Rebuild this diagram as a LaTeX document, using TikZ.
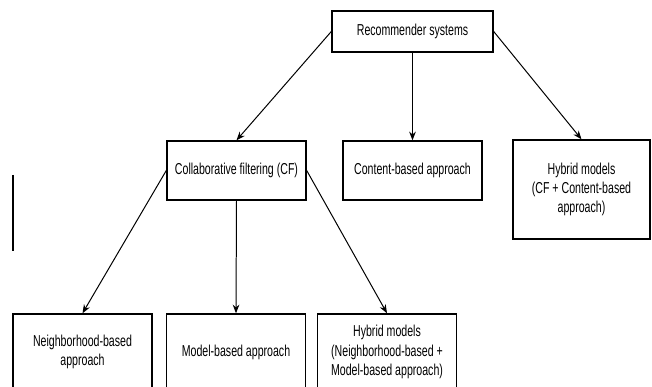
\documentclass[tikz,border=0pt]{standalone}
\usepackage{fontspec}
\setmainfont{Liberation Sans}[FakeStretch=0.67]
\usepackage{tikz}
\usetikzlibrary{arrows.meta,positioning}

\begin{document}
\begin{tikzpicture}[
        catbox/.style={draw, line width=1.2pt, minimum width=4.17cm, minimum height=1.77cm, align=center, inner sep=2pt, font=\fontsize{13.5}{16.5}\selectfont},
        rootbox/.style={catbox, minimum width=4.83cm, minimum height=1.23cm},
        leafbox/.style={catbox, minimum height=2.28cm},
        branch/.style={-{Stealth[length=2.6mm, width=2mm]}, line width=0.85pt}
      ]
      \useasboundingbox (0,0) rectangle (19.56,-11.61);

      \node[rootbox] (rec) at (12.375,-0.945) {Recommender systems};

      \node[catbox] (cf) at (7.095,-5.115) {Collaborative filtering (CF)};
      \node[catbox] (cb) at (12.375,-5.115) {Content-based approach};
      \node[catbox, minimum width=4.11cm, minimum height=2.97cm] (hyb) at (17.445,-5.685) {Hybrid models\\(CF + Content-based\\approach)};

      \node[leafbox] (nb) at (2.475,-10.56) {Neighborhood-based\\approach};
      \node[leafbox] (mb) at (7.08,-10.56) {Model-based approach};
      \node[leafbox] (hyb2) at (11.61,-10.56) {Hybrid models\\(Neighborhood-based +\\Model-based approach)};

      \draw[branch] (rec.west) -- (cf.north);
      \draw[branch] (rec.south) -- (cb.north);
      \draw[branch] (rec.east) -- (hyb.north);

      \draw[branch] (cf.west) -- (nb.north);
      \draw[branch] (cf.south) -- (mb.north);
      \draw[branch] (cf.east) -- (hyb2.north);

      \draw[line width=2pt] (0.39,-5.25) -- (0.39,-7.53);
    \end{tikzpicture}
\end{document}
